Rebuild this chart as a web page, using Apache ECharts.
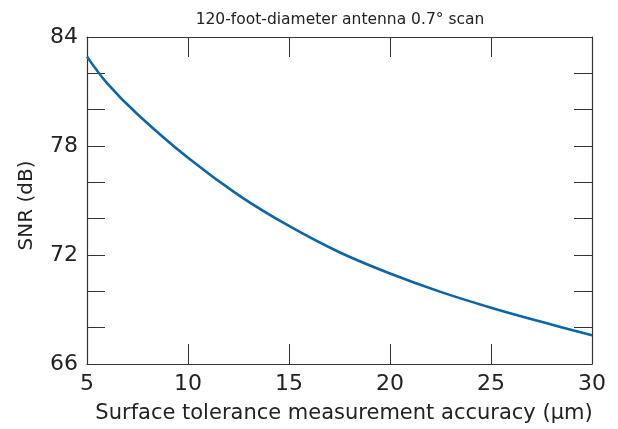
<!DOCTYPE html>
<html>
<head>
<meta charset="utf-8">
<script src="https://cdn.jsdelivr.net/npm/echarts@6/dist/echarts.min.js"></script>
<style>
html,body{margin:0;padding:0;background:#fff;}
#chart{width:618px;height:429px;}
</style>
</head>
<body>
<div id="chart"></div>
<script>
// Surface tolerance measurement accuracy (µm) vs. SNR (dB)
const accuracy = [5, 6, 7.5, 10, 12.5, 15, 17.5, 20, 22.5, 25, 27.5, 30];
const snr = [82.92, 81.45, 79.75, 77.35, 75.3, 73.6, 72.15, 70.98, 69.97, 69.1, 68.32, 67.58];
const yLabeled = [66, 72, 78, 84];

const chart = echarts.init(document.getElementById('chart'));
const font = '"DejaVu Sans", "Liberation Sans", sans-serif';
const axisColor = '#333';
const textColor = '#222';

const xBase = {
  type: 'value', min: 5, max: 30, interval: 5,
  axisLine: { show: true, lineStyle: { color: axisColor, width: 1.2 } },
  axisTick: { show: true, inside: true, length: 20, lineStyle: { color: axisColor, width: 1 } },
  splitLine: { show: false }
};
const yBase = {
  type: 'value', min: 66, max: 84, interval: 2,
  axisLine: { show: true, lineStyle: { color: axisColor, width: 1.2 } },
  axisTick: { show: true, inside: true, length: 18, lineStyle: { color: axisColor, width: 1 } },
  splitLine: { show: false }
};

chart.setOption({
  animation: false,
  backgroundColor: '#fff',
  title: {
    text: '120-foot-diameter antenna 0.7° scan',
    left: 335, top: 7, textAlign: 'center',
    textStyle: { fontFamily: font, fontWeight: 'normal', fontSize: 15.5, color: textColor }
  },
  grid: { left: 87, right: 26, top: 37, bottom: 61 },
  xAxis: [
    Object.assign({}, xBase, {
      position: 'bottom',
      name: 'Surface tolerance measurement accuracy (μm)',
      nameLocation: 'middle', nameGap: 39,
      nameTextStyle: { fontFamily: font, fontSize: 21, color: textColor, padding: [0, 0, 0, 9] },
      axisLabel: { fontFamily: font, fontSize: 22, color: textColor, margin: 9 }
    }),
    Object.assign({}, xBase, { position: 'top', axisLabel: { show: false } })
  ],
  yAxis: [
    Object.assign({}, yBase, {
      position: 'left',
      name: 'SNR (dB)',
      nameLocation: 'middle', nameGap: 50,
      nameTextStyle: { fontFamily: font, fontSize: 20, color: textColor, padding: [0, 10, 0, 0] },
      axisLabel: {
        fontFamily: font, fontSize: 22, color: textColor, margin: 9,
        formatter: v => yLabeled.includes(v) ? String(v) : ''
      }
    }),
    Object.assign({}, yBase, { position: 'right', axisLabel: { show: false } })
  ],
  series: [{
    type: 'line',
    xAxisIndex: 0, yAxisIndex: 0,
    data: accuracy.map((x, i) => [x, snr[i]]),
    smooth: 0.35,
    showSymbol: false,
    lineStyle: { color: '#0b65a6', width: 2.6 }
  }]
});
</script>
</body>
</html>
